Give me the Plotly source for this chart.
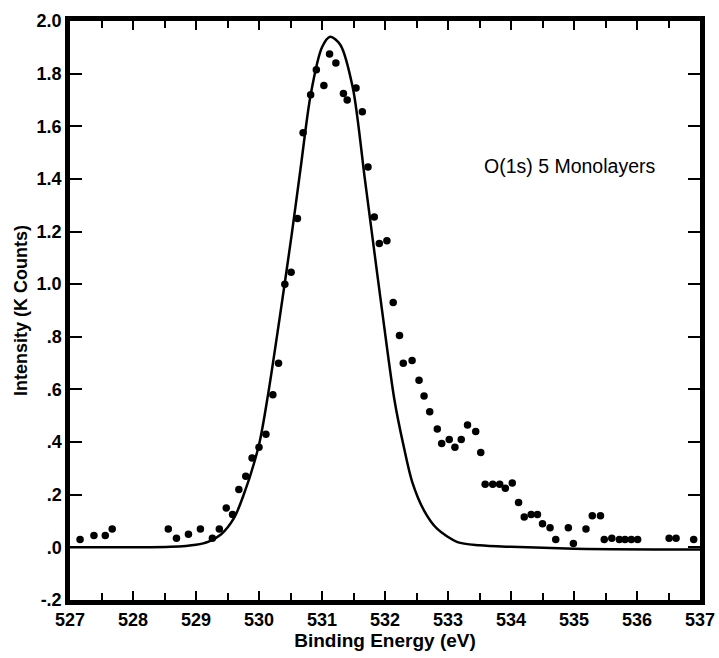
import plotly.graph_objects as go

# Measured data points (binding energy eV, intensity K counts)
data_x = [527.16, 527.38, 527.56, 527.67, 528.56, 528.69, 528.88, 529.07, 529.26, 529.37,
          529.48, 529.58, 529.68, 529.79, 529.89, 530.00, 530.11, 530.22, 530.31, 530.41,
          530.51, 530.61, 530.70, 530.82, 530.91, 531.03, 531.12, 531.22, 531.34, 531.40,
          531.54, 531.64, 531.73, 531.83, 531.91, 532.03, 532.13, 532.23, 532.29, 532.43,
          532.54, 532.62, 532.71, 532.83, 532.90, 533.02, 533.11, 533.21, 533.31, 533.44,
          533.52, 533.59, 533.71, 533.82, 533.91, 534.02, 534.12, 534.21, 534.32, 534.42,
          534.50, 534.62, 534.71, 534.91, 534.99, 535.19, 535.29, 535.42, 535.48, 535.60,
          535.72, 535.81, 535.91, 536.01, 536.51, 536.62, 536.90]
data_y = [0.03, 0.045, 0.045, 0.07, 0.07, 0.035, 0.05, 0.07, 0.035, 0.07,
          0.15, 0.125, 0.22, 0.27, 0.34, 0.38, 0.43, 0.58, 0.70, 1.00,
          1.045, 1.25, 1.575, 1.72, 1.815, 1.755, 1.875, 1.84, 1.725, 1.70,
          1.745, 1.655, 1.445, 1.255, 1.155, 1.165, 0.93, 0.805, 0.70, 0.71,
          0.635, 0.575, 0.515, 0.45, 0.395, 0.41, 0.38, 0.41, 0.465, 0.44,
          0.36, 0.24, 0.24, 0.24, 0.225, 0.245, 0.17, 0.115, 0.125, 0.125,
          0.09, 0.075, 0.03, 0.075, 0.015, 0.07, 0.12, 0.12, 0.03, 0.035,
          0.03, 0.03, 0.03, 0.03, 0.035, 0.035, 0.03]

# Fitted curve
curve_x = [527.0, 528.0, 528.6, 529.0, 529.2, 529.4, 529.6, 529.75, 530.0, 530.15,
           530.33, 530.52, 530.66, 530.82, 531.0, 531.13, 531.29, 531.49, 531.68, 531.8,
           531.97, 532.15, 532.3, 532.43, 532.62, 532.83, 533.15, 533.5, 534.0, 535.0, 537.0]
curve_y = [0.0, 0.0, 0.002, 0.01, 0.022, 0.05, 0.11, 0.195, 0.39, 0.59,
           0.875, 1.19, 1.44, 1.72, 1.90, 1.94, 1.91, 1.745, 1.40, 1.18,
           0.87, 0.56, 0.38, 0.25, 0.14, 0.07, 0.02, 0.008, 0.002, -0.005, -0.008]

x_ticks = [527, 528, 529, 530, 531, 532, 533, 534, 535, 536, 537]
y_ticks = [-0.2, 0.0, 0.2, 0.4, 0.6, 0.8, 1.0, 1.2, 1.4, 1.6, 1.8, 2.0]
y_tick_labels = ['-.2', '.0', '.2', '.4', '.6', '.8', '1.0', '1.2', '1.4', '1.6', '1.8', '2.0']

FONT = "Liberation Sans"

fig = go.Figure()
fig.add_trace(go.Scatter(x=curve_x, y=curve_y, mode='lines',
                         line=dict(color='black', width=2.5, shape='spline', smoothing=0.8),
                         hoverinfo='skip', showlegend=False))
fig.add_trace(go.Scatter(x=data_x, y=data_y, mode='markers',
                         marker=dict(color='black', size=7.5),
                         showlegend=False))

fig.add_annotation(x=534.93, y=1.45, xref='x', yref='y', text="O(1s) 5 Monolayers",
                   showarrow=False, font=dict(family=FONT, size=19.5, color='black'))

fig.update_layout(
    width=719, height=658,
    margin=dict(l=70, r=19, t=21, b=58),
    paper_bgcolor='white', plot_bgcolor='white',
    font=dict(family=FONT, color='black'),
    xaxis=dict(range=[527, 537], tickvals=x_ticks, ticktext=[str(v) for v in x_ticks],
               automargin=False,
               showline=True, linecolor='black', linewidth=4.5, mirror='ticks',
               ticks='inside', ticklen=9, tickwidth=1.5, tickcolor='black',
               minor=dict(dtick=0.5, tick0=527, ticks='inside', ticklen=7, tickwidth=1.5, tickcolor='black'),
               showgrid=False, zeroline=False,
               tickfont=dict(family=FONT, size=18, color='black', weight='bold'),
               title=dict(text="Binding Energy (eV)", standoff=4,
                          font=dict(family=FONT, size=19, color='black', weight='bold'))),
    yaxis=dict(range=[-0.2, 2.0], tickvals=y_ticks, ticktext=y_tick_labels,
               automargin=False,
               showline=True, linecolor='black', linewidth=4.5, mirror='ticks',
               ticks='inside', ticklen=12, tickwidth=1.5, tickcolor='black',
               showgrid=False, zeroline=False,
               tickfont=dict(family=FONT, size=18, color='black', weight='bold'),
               title=dict(text="Intensity (K Counts)", standoff=6,
                          font=dict(family=FONT, size=18, color='black', weight='bold'))),
)

fig.write_html("out.html", config={'displayModeBar': False},
               post_script="document.body.style.margin='0';document.body.style.overflow='hidden';")
